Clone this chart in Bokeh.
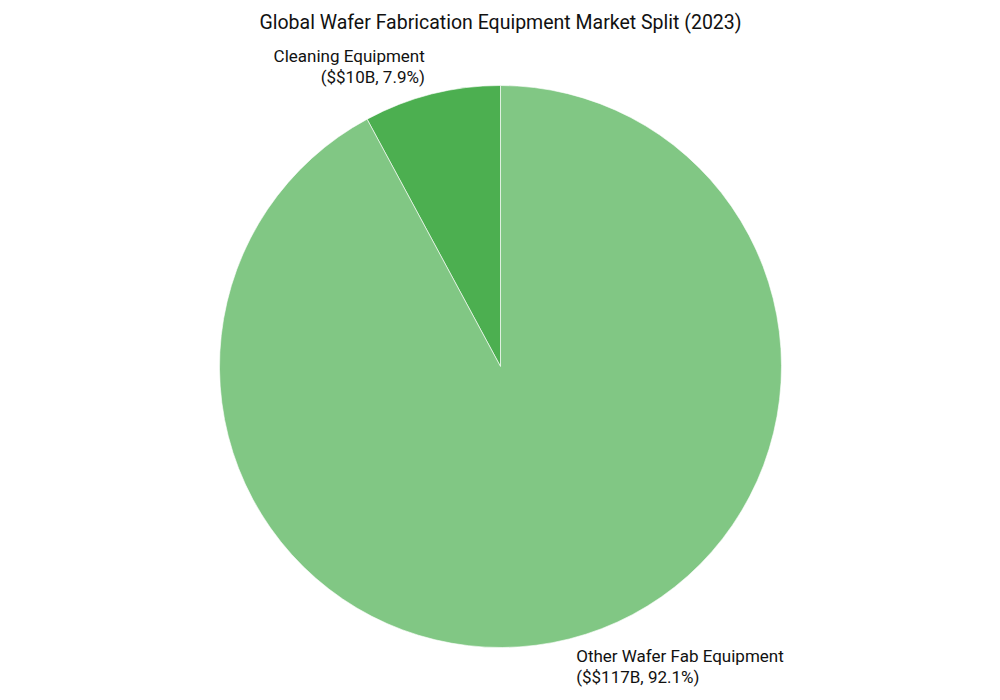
import math
from bokeh.plotting import figure
from bokeh.models import Range1d, ColumnDataSource
from bokeh.core.properties import value
from bokeh.embed import file_html
from bokeh.resources import INLINE

title = "Global Wafer Fabrication Equipment Market Split (2023)"
categories = ["Cleaning Equipment", "Other Wafer Fab Equipment"]
values_b = [10, 117]
colors = ["#4CAF50", "#81C784"]

W, H = 984, 696
cx, cy, r = 500, 330, 281

total = sum(values_b)
starts, ends, lx, ly, aligns, labels = [], [], [], [], [], []
a = math.pi / 2
for name, v in zip(categories, values_b):
    frac = v / total
    s, e = a, a + frac * 2 * math.pi
    starts.append(s)
    ends.append(e)
    mid = (s + e) / 2
    lx.append(cx + 1.1 * r * math.cos(mid))
    ly.append(cy + 1.1 * r * math.sin(mid))
    aligns.append("left" if math.cos(mid) > 0 else "right")
    labels.append(f"{name}\n($${v}B, {frac * 100:.1f}%)")
    a = e

src = ColumnDataSource(dict(start=starts, end=ends, color=colors, cat=categories))
lsrc = ColumnDataSource(dict(x=lx, y=ly, text=labels, align=aligns))

p = figure(width=W, height=H, output_backend="svg", toolbar_location=None,
           x_range=Range1d(0, W), y_range=Range1d(0, H), min_border=0)
p.axis.visible = False
p.grid.visible = False
p.outline_line_color = None
p.background_fill_color = "white"
p.border_fill_color = "white"

p.wedge(x=cx, y=cy, radius=r, start_angle="start", end_angle="end",
        fill_color="color", line_color="white", line_width=0.6, source=src)

p.text(x="x", y="y", text="text", text_align="align", text_baseline="middle",
       text_font=value("Roboto"), text_font_size=value("17px"), text_color="#111111",
       text_line_height=1.05, source=lsrc)

p.text(x=[500], y=[H - 22], text=[title], text_align="center", text_baseline="middle",
       text_font=value("Roboto"), text_font_size=value("19.5px"), text_color="#111111")

open("out.html", "w").write(file_html(p, INLINE))
